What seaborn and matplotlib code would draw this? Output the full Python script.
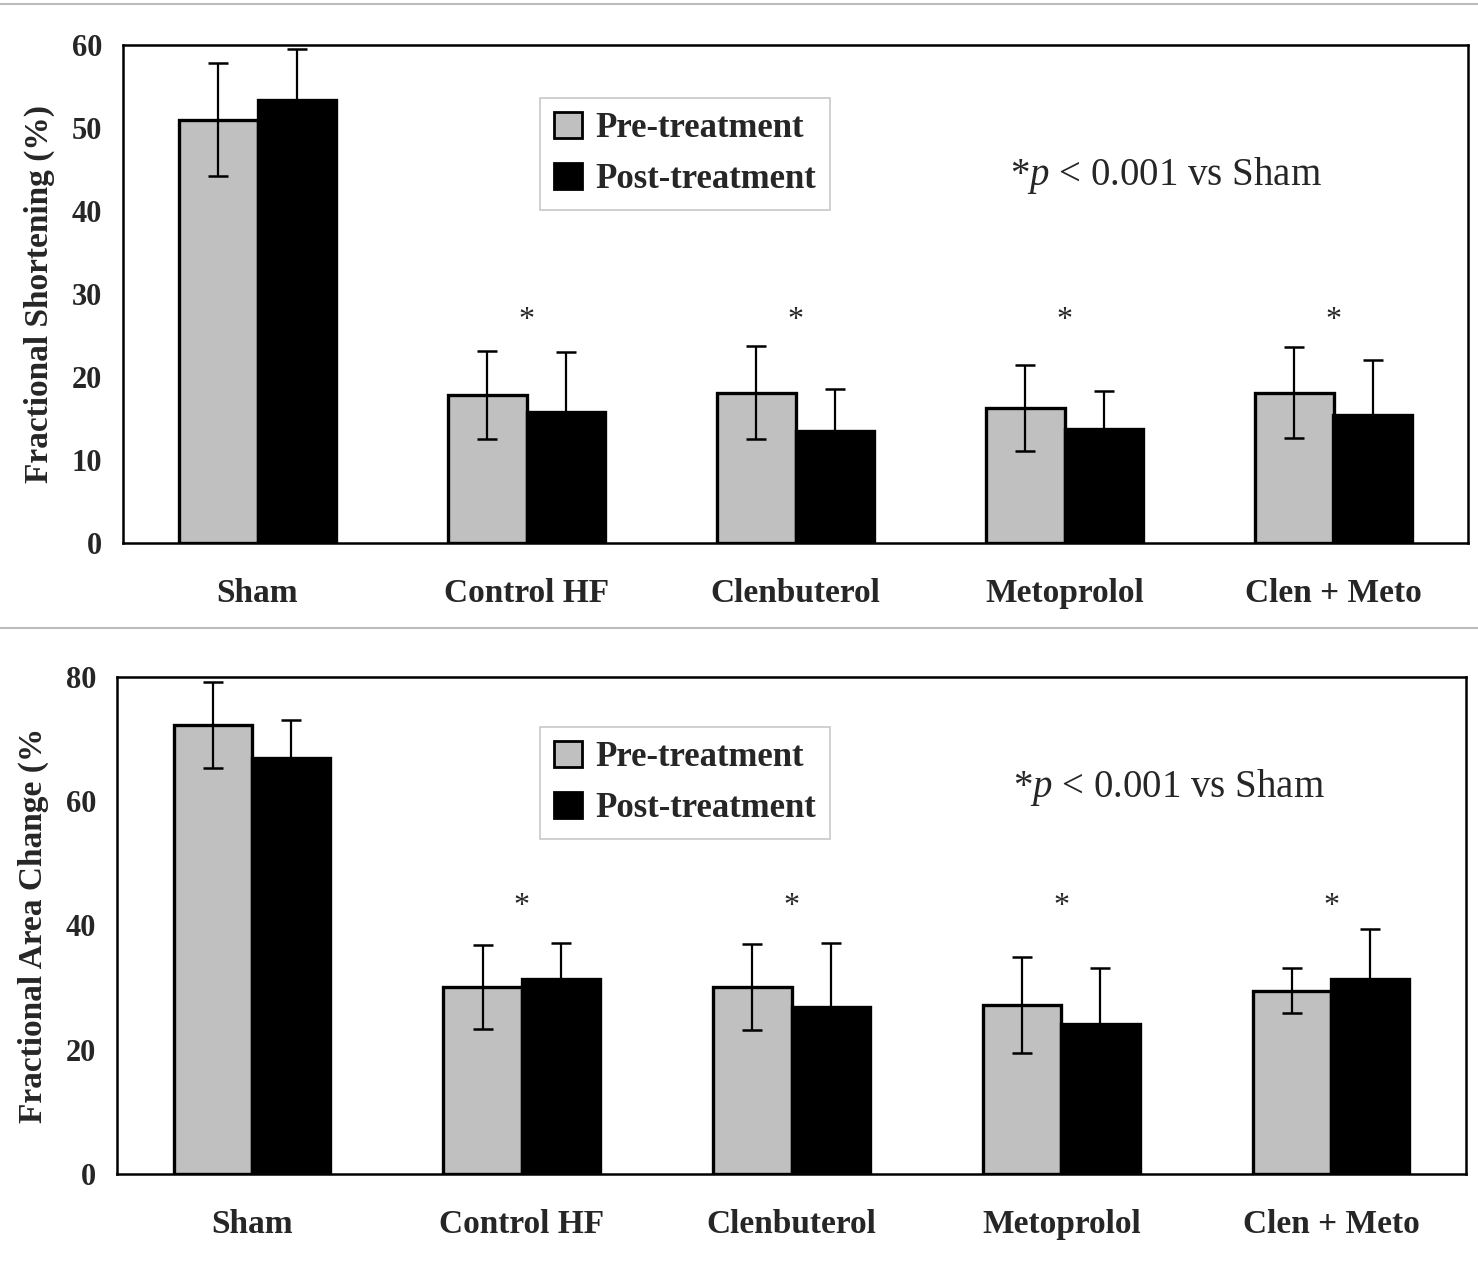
import numpy as np
import pandas as pd
import seaborn as sns
import matplotlib.pyplot as plt
from matplotlib.patches import Patch
from matplotlib.lines import Line2D

groups = ["Sham", "Control HF", "Clenbuterol", "Metoprolol", "Clen + Meto"]
phases = ["Pre-treatment", "Post-treatment"]

# Fractional shortening (%)
fs_pre = [51.0, 17.8, 18.1, 16.3, 18.1]
fs_pre_sd = [6.8, 5.3, 5.6, 5.2, 5.5]
fs_post = [53.4, 15.8, 13.5, 13.7, 15.4]
fs_post_sd = [6.1, 7.2, 5.1, 4.6, 6.6]

# Fractional area change (%)
fac_pre = [72.3, 30.1, 30.1, 27.2, 29.5]
fac_pre_sd = [6.9, 6.7, 7.0, 7.8, 3.6]
fac_post = [67.0, 31.4, 26.9, 24.2, 31.4]
fac_post_sd = [6.0, 5.8, 10.3, 9.0, 8.1]

fs_stars = [26.8, 26.8, 26.8, 26.8]
fac_stars = [43.0, 43.0, 43.0, 43.0]

sns.set_style("white")
plt.rcParams["font.family"] = ["Liberation Serif", "DejaVu Serif"]
plt.rcParams["mathtext.fontset"] = "custom"
plt.rcParams["mathtext.rm"] = "Liberation Serif"
plt.rcParams["mathtext.it"] = "Liberation Serif:italic"

colors = {"Pre-treatment": "#c0c0c0", "Post-treatment": "#000000"}


def panel(ax, pre, pre_sd, post, post_sd, ylabel, ymax, step, stars, leg_box, note_xy):
    df = pd.DataFrame({
        "group": groups * 2,
        "phase": [phases[0]] * 5 + [phases[1]] * 5,
        "value": pre + post,
    })
    sns.barplot(data=df, x="group", y="value", hue="phase", order=groups,
                hue_order=phases, palette=colors, width=0.58, errorbar=None,
                edgecolor="black", linewidth=2.4, legend=False, ax=ax)

    for cont, sd in zip(ax.containers, [pre_sd, post_sd]):
        xs = [p.get_x() + p.get_width() / 2 for p in cont.patches]
        ys = [p.get_height() for p in cont.patches]
        ax.errorbar(xs, ys, yerr=sd, fmt="none", ecolor="black",
                    elinewidth=1.6, capsize=7, capthick=1.8, zorder=5)

    for i, s in enumerate(stars):
        ax.text(i + 1, s, "*", ha="center", va="center", fontsize=23)

    ax.set_xlim(-0.5, 4.5)
    ax.set_ylim(0, ymax)
    ax.set_yticks(np.arange(0, ymax + 1, step))
    ax.set_xticks(np.arange(-0.5, 5, 1), minor=True)
    ax.tick_params(axis="x", which="major", length=0, pad=25, labelsize=24)
    ax.tick_params(axis="x", which="minor", direction="out", length=10,
                   width=1, color="#999999")
    ax.tick_params(axis="y", direction="out", length=7, width=1,
                   color="#999999", labelsize=22, pad=8)
    for lab in ax.get_xticklabels() + ax.get_yticklabels():
        lab.set_fontweight("bold")
    ax.set_xlabel("")
    ax.set_ylabel(ylabel, fontsize=24, fontweight="bold", labelpad=12)
    for sp in ax.spines.values():
        sp.set_visible(True)
        sp.set_color("black")
        sp.set_linewidth(1.8)

    handles = [Patch(facecolor=colors[p], edgecolor="black", linewidth=2) for p in phases]
    leg = ax.legend(handles, phases, loc="upper left", bbox_to_anchor=leg_box,
                    borderaxespad=0, frameon=True, fancybox=False,
                    edgecolor="#bbbbbb", prop={"weight": "bold", "size": 25},
                    handlelength=0.8, handleheight=0.8, handletextpad=0.4,
                    borderpad=0.4, labelspacing=0.5)
    leg.get_frame().set_linewidth(1.2)

    ax.text(note_xy[0], note_xy[1], r"*$\it{p}$ < 0.001 vs Sham",
            transform=ax.transAxes, ha="left", va="center", fontsize=28)


fig = plt.figure(figsize=(14.78, 12.63), dpi=100)
ax1 = fig.add_axes([123 / 1478, 1 - 543 / 1263, 1345 / 1478, 498 / 1263])
ax2 = fig.add_axes([117 / 1478, 1 - 1174 / 1263, 1349 / 1478, 497 / 1263])

panel(ax1, fs_pre, fs_pre_sd, fs_post, fs_post_sd, "Fractional Shortening (%)",
      60, 10, fs_stars, (417 / 1345, 1 - 53 / 498), (887 / 1345, 1 - 130 / 498))
panel(ax2, fac_pre, fac_pre_sd, fac_post, fac_post_sd, "Fractional Area Change (%",
      80, 20, fac_stars, (423 / 1349, 1 - 50 / 497), (896 / 1349, 1 - 110 / 497))

fig.add_artist(Line2D([0, 1], [1 - 4 / 1263, 1 - 4 / 1263], color="#bbbbbb", lw=1.5))
fig.add_artist(Line2D([0, 1], [1 - 628 / 1263, 1 - 628 / 1263], color="#bbbbbb", lw=1.5))

fig.savefig("out.png", dpi=100)
